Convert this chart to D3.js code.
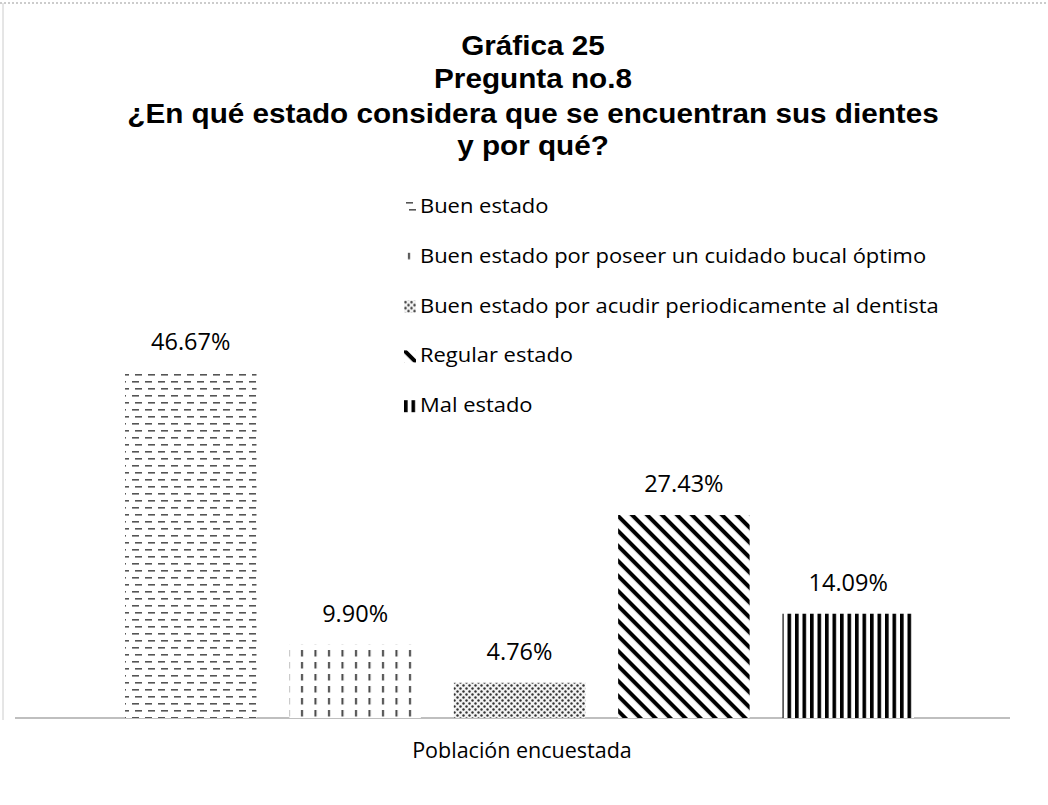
<!DOCTYPE html>
<html>
<head>
<meta charset="utf-8">
<script src="https://cdn.jsdelivr.net/npm/d3@7"></script>
<style>
  html, body { margin: 0; padding: 0; background: #fff; }
  svg { display: block; }
</style>
</head>
<body>
<div id="chart"></div>
<script>
// data
const categories = [
  'Buen estado',
  'Buen estado por poseer un cuidado bucal óptimo',
  'Buen estado por acudir periodicamente al dentista',
  'Regular estado',
  'Mal estado'
];
const values = [46.67, 9.90, 4.76, 27.43, 14.09];
const patternIds = ['pDash', 'pVdash', 'pDots', 'pDiag', 'pVert'];
const titleLines = ['Gráfica 25', 'Pregunta no.8', '¿En qué estado considera que se encuentran sus dientes', 'y por qué?'];
const axisTitle = 'Población encuestada';

const W = 1048, H = 805;
const baseY = 718;

const svg = d3.select('#chart').append('svg')
  .attr('width', W)
  .attr('height', H);

svg.append('rect').attr('width', W).attr('height', H).attr('fill', '#fff');

// stretch text a bit wider, the scan is wider than the fonts we have
function stretch(sel, k) {
  sel.each(function() {
    const w = this.getComputedTextLength();
    d3.select(this).attr('textLength', w * k).attr('lengthAdjust', 'spacingAndGlyphs');
  });
}

// scanned page border
svg.append('line')
  .attr('x1', 0).attr('x2', W).attr('y1', 3).attr('y2', 3)
  .attr('stroke', '#999').attr('stroke-width', 1).attr('stroke-dasharray', '2,2');
svg.append('line')
  .attr('x1', 3).attr('x2', 3).attr('y1', 3).attr('y2', 720)
  .attr('stroke', '#ccc').attr('stroke-width', 1);

// patterns
const defs = svg.append('defs');

let p = defs.append('pattern').attr('id', 'pDash')
  .attr('patternUnits', 'userSpaceOnUse').attr('width', 13).attr('height', 14);
p.append('rect').attr('width', 13).attr('height', 14).attr('fill', '#fff');
p.append('rect').attr('x', 2).attr('y', 3).attr('width', 7).attr('height', 1.6).attr('fill', '#555');
p.append('rect').attr('x', 5).attr('y', 10).attr('width', 7).attr('height', 1.6).attr('fill', '#555');

p = defs.append('pattern').attr('id', 'pVdash')
  .attr('patternUnits', 'userSpaceOnUse').attr('width', 13.5).attr('height', 12);
p.append('rect').attr('width', 13.5).attr('height', 12).attr('fill', '#fff');
p.append('rect').attr('x', 4).attr('y', 2).attr('width', 2).attr('height', 6.5).attr('fill', '#444');

p = defs.append('pattern').attr('id', 'pDots')
  .attr('patternUnits', 'userSpaceOnUse').attr('width', 6).attr('height', 6);
p.append('rect').attr('width', 6).attr('height', 6).attr('fill', '#f2f2f2');
p.append('circle').attr('cx', 1.5).attr('cy', 1.5).attr('r', 1.2).attr('fill', '#333');
p.append('circle').attr('cx', 4.5).attr('cy', 4.5).attr('r', 1.2).attr('fill', '#333');

p = defs.append('pattern').attr('id', 'pDiag')
  .attr('patternUnits', 'userSpaceOnUse').attr('width', 10).attr('height', 10.6)
  .attr('patternTransform', 'rotate(45)');
p.append('rect').attr('width', 10).attr('height', 10.6).attr('fill', '#fff');
p.append('rect').attr('width', 10).attr('height', 4).attr('fill', '#000');

p = defs.append('pattern').attr('id', 'pVert')
  .attr('patternUnits', 'userSpaceOnUse').attr('width', 7.5).attr('height', 10);
p.append('rect').attr('width', 7.5).attr('height', 10).attr('fill', '#fff');
p.append('rect').attr('width', 3.6).attr('height', 10).attr('fill', '#000');

// title
svg.append('g').selectAll('text')
  .data(titleLines)
  .join('text')
    .attr('x', 533)
    .attr('y', (d, i) => [55, 88, 123, 155][i])
    .attr('text-anchor', 'middle')
    .attr('font-family', 'Liberation Sans, Arial, sans-serif')
    .attr('font-weight', 'bold')
    .attr('font-size', '28px')
    .attr('fill', '#000')
    .text(d => d)
    .call(stretch, 1.06);

// scales
const x = d3.scaleBand()
  .domain(categories)
  .range([125, 914])
  .paddingInner(0.2)
  .paddingOuter(0);

const y = d3.scaleLinear()
  .domain([0, 50])
  .range([baseY, baseY - 50 * 7.4]);

// baseline
svg.append('line')
  .attr('x1', 15).attr('x2', 1010).attr('y1', baseY).attr('y2', baseY)
  .attr('stroke', '#aaa').attr('stroke-width', 1.5);

// bars
svg.append('g').selectAll('rect')
  .data(values)
  .join('rect')
    .attr('x', (d, i) => x(categories[i]))
    .attr('y', d => y(d))
    .attr('width', x.bandwidth())
    .attr('height', d => y(0) - y(d))
    .attr('fill', (d, i) => 'url(#' + patternIds[i] + ')');

// value labels
svg.append('g').selectAll('text')
  .data(values)
  .join('text')
    .attr('x', (d, i) => x(categories[i]) + x.bandwidth() / 2)
    .attr('y', d => y(d) - 23)
    .attr('text-anchor', 'middle')
    .attr('font-family', 'Open Sans, sans-serif')
    .attr('font-size', '23.5px')
    .attr('fill', '#000')
    .text(d => d.toFixed(2) + '%');

// legend
const legend = svg.append('g').attr('transform', 'translate(404,0)');
const rows = legend.selectAll('g')
  .data(categories)
  .join('g')
    .attr('transform', (d, i) => 'translate(0,' + (213 + i * 49.8) + ')');
rows.append('rect')
  .attr('x', 0).attr('y', -12).attr('width', 12).attr('height', 12)
  .attr('fill', (d, i) => 'url(#' + patternIds[i] + ')');
rows.append('text')
  .attr('x', 16).attr('y', 0)
  .attr('font-family', 'Open Sans, sans-serif')
  .attr('font-size', '20.5px')
  .attr('fill', '#000')
  .text(d => d)
  .call(stretch, 1.07);

// axis title
svg.append('text')
  .attr('x', 522)
  .attr('y', 758)
  .attr('text-anchor', 'middle')
  .attr('font-family', 'Open Sans, sans-serif')
  .attr('font-size', '21.5px')
  .attr('fill', '#000')
  .text(axisTitle);
</script>
</body>
</html>
